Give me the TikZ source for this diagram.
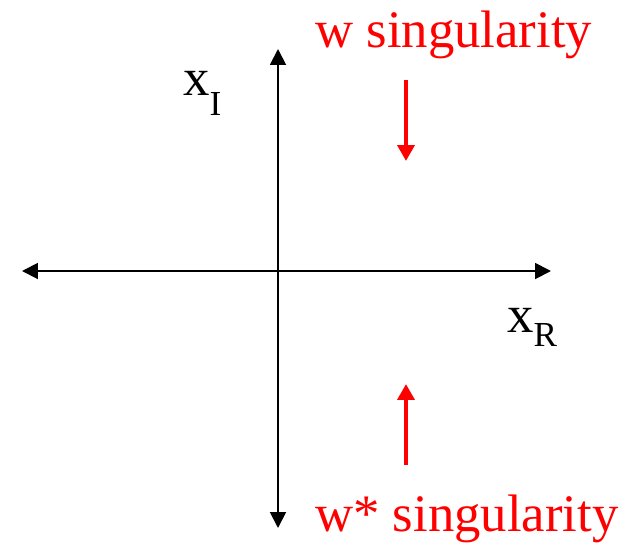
\documentclass[tikz,border=0pt]{standalone}
\usepackage{fontspec}
\setmainfont{Liberation Serif}
\usetikzlibrary{arrows.meta, positioning}

\begin{document}
\begin{tikzpicture}[
  x=0.02cm, y=-0.02cm,
  axis/.style={{Triangle[length=9pt, width=9pt]}-{Triangle[length=9pt, width=9pt]}, line width=1.1pt},
  push/.style={-{Triangle[length=9pt, width=9.5pt]}, red, line width=2.3pt},
  label/.style={font=\fontsize{30}{36}\selectfont, inner sep=0pt, anchor=base west},
  redlabel/.style={label, text=red}
]
\useasboundingbox (0,0) rectangle (640,552);

% Axes
\coordinate (left) at (22,271);
\coordinate (right) at (551,271);
\coordinate (top) at (278,49);
\coordinate (bottom) at (278,528);
\draw[axis] (left) -- (right);
\draw[axis] (top) -- (bottom);

% Axis labels
\node[label] (xi) at (183,95) {x\raisebox{-0.38em}{\fontsize{20}{24}\selectfont I}};
\node[label] (xr) at (507,332) {x\raisebox{-0.27em}{\fontsize{20}{24}\selectfont R}};

% Singularities
\node[redlabel] (wsing) at (315,47) {w singularity};
\node[redlabel] (wstar) at (315,531) {w* singularity};

% Arrows towards the real axis
\coordinate (upstart) at (406,80);
\coordinate (upend) at (406,161);
\coordinate (downstart) at (406,465);
\coordinate (downend) at (406,384);
\draw[push] (upstart) -- (upend);
\draw[push] (downstart) -- (downend);
\end{tikzpicture}
\end{document}
